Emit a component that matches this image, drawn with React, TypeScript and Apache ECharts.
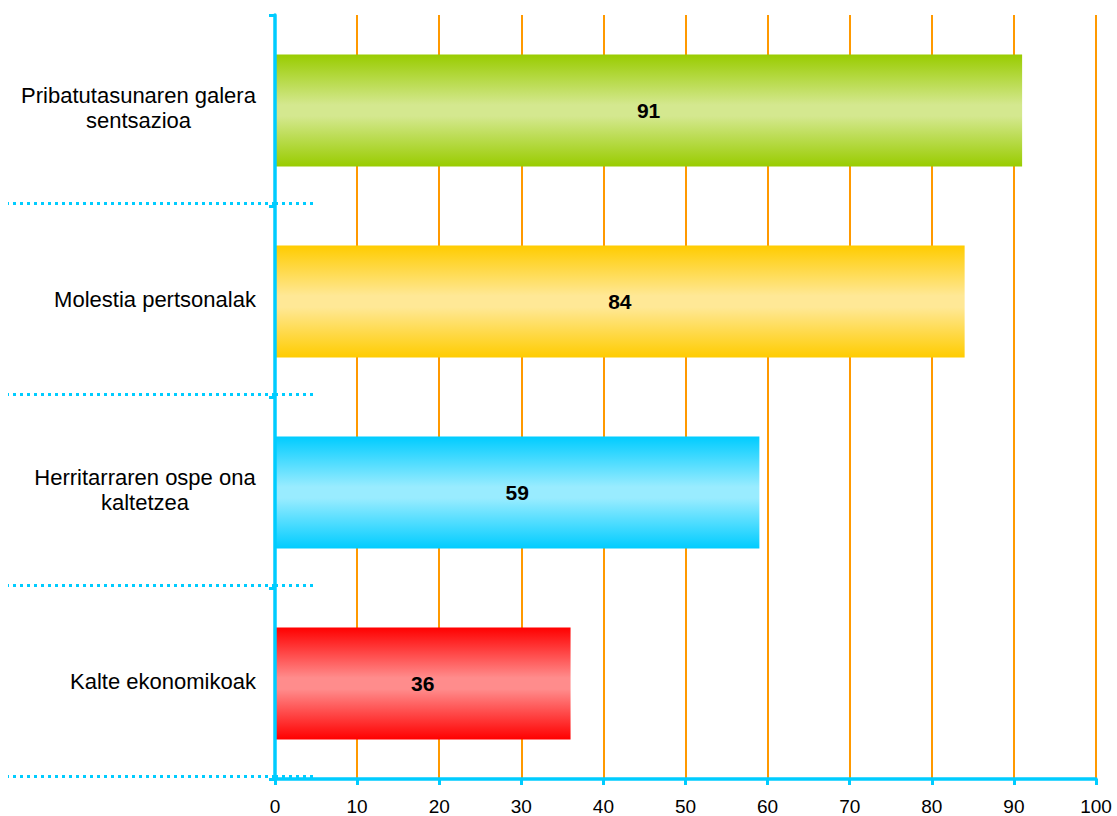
import React, { useEffect, useRef } from "react";
import * as echarts from "echarts";

const categories = [
  "Pribatutasunaren galera\nsentsazioa",
  "Molestia pertsonalak",
  "Herritarraren ospe ona\nkaltetzea",
  "Kalte ekonomikoak",
];
const values = [91, 84, 59, 36];
const edgeColors = ["#99cc00", "#ffcc00", "#00ccff", "#ff0000"];
const centerColors = ["#d4e88f", "#ffe896", "#99ecff", "#ff8c8c"];
const xTicks = [0, 10, 20, 30, 40, 50, 60, 70, 80, 90, 100];
const separatorPositions = [0.016, 1.016, 2.016, 3.016];

const FONT = '"Liberation Sans", Arial, sans-serif';
const CYAN = "#00ccff";
const ORANGE = "#ff9900";

function measure(text: string, size: number): number {
  const c = document.createElement("canvas");
  const ctx = c.getContext("2d");
  if (!ctx) return text.length * size * 0.55;
  ctx.font = `${size}px "Liberation Sans", Arial, sans-serif`;
  return ctx.measureText(text).width;
}

export default function App() {
  const ref = useRef<HTMLDivElement>(null);
  useEffect(() => {
    if (!ref.current) return;
    const chart = echarts.init(ref.current, undefined, { renderer: "svg" });
    const labelSize = 22;
    const rich: Record<string, any> = {};
    categories.forEach((cat, i) => {
      const w = Math.max(...cat.split("\n").map((l) => measure(l, labelSize)));
      rich["c" + i] = {
        width: Math.ceil(w) + 2,
        align: "center",
        fontSize: labelSize,
        fontFamily: FONT,
        color: "#000",
        lineHeight: 25,
      };
    });
    const option: any = {
      animation: false,
      backgroundColor: "#ffffff",
      grid: { left: 275, right: 21, top: 15, bottom: 37, containLabel: false },
      xAxis: {
        type: "value",
        min: 0,
        max: 100,
        interval: 10,
        axisLine: { show: true, lineStyle: { color: CYAN, width: 3.5 } },
        axisTick: { show: true, length: 6, lineStyle: { color: CYAN, width: 3 } },
        axisLabel: {
          show: true,
          margin: 18,
          fontSize: 19,
          fontFamily: FONT,
          color: "#000",
          customValues: xTicks,
        },
        splitLine: { show: true, lineStyle: { color: ORANGE, width: 2 } },
      },
      yAxis: [
        {
          type: "category",
          data: categories,
          inverse: true,
          axisLine: { show: true, lineStyle: { color: CYAN, width: 3.5 } },
          axisTick: { show: true, length: 6, lineStyle: { color: CYAN, width: 3 } },
          axisLabel: {
            margin: 18,
            align: "right",
            padding: [0, 0, 5, 0],
            formatter: (v: string) => {
              const i = categories.indexOf(v);
              return v
                .split("\n")
                .map((l) => `{c${i}|${l}}`)
                .join("\n");
            },
            rich,
          },
          splitLine: { show: false },
          z: 5,
        },
        {
          type: "value",
          min: 0,
          max: 4,
          position: "left",
          axisLine: { show: false },
          axisLabel: { show: false },
          splitLine: { show: false },
          axisTick: {
            show: true,
            length: 267,
            customValues: separatorPositions,
            lineStyle: { color: CYAN, width: 3, type: [3, 4] },
          },
        },
        {
          type: "value",
          min: 0,
          max: 4,
          position: "left",
          axisLine: { show: false },
          axisLabel: { show: false },
          splitLine: { show: false },
          axisTick: {
            show: true,
            inside: true,
            length: 38,
            customValues: separatorPositions,
            lineStyle: { color: CYAN, width: 3, type: [3, 4] },
          },
        },
      ],
      series: [
        {
          type: "bar",
          yAxisIndex: 0,
          barWidth: "58.6%",
          data: values.map((v, i) => ({
            value: v,
            itemStyle: {
              color: new echarts.graphic.LinearGradient(0, 0, 0, 1, [
                { offset: 0, color: edgeColors[i] },
                { offset: 0.45, color: centerColors[i] },
                { offset: 0.55, color: centerColors[i] },
                { offset: 1, color: edgeColors[i] },
              ]),
            },
          })),
          label: {
            show: true,
            position: "inside",
            color: "#000",
            fontWeight: "bold",
            fontSize: 21,
            fontFamily: FONT,
          },
          z: 2,
        },
      ],
    };
    chart.setOption(option);
    return () => chart.dispose();
  }, []);
  return (
    <div
      ref={ref}
      style={{ position: "fixed", left: 0, top: 0, width: 1117, height: 816, background: "#fff" }}
    />
  );
}
